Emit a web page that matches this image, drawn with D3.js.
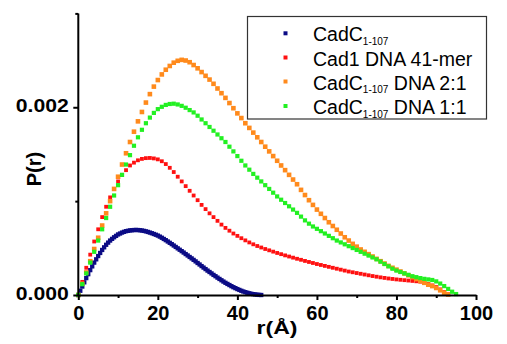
<!DOCTYPE html>
<html><head><meta charset="utf-8">
<script src="https://cdn.jsdelivr.net/npm/d3@7"></script>
<style>
html,body{margin:0;padding:0;background:#fff;}
svg{display:block;font-family:"Liberation Sans",Arial,sans-serif;}
</style></head>
<body>
<svg id="chart" width="507" height="344"></svg>
<script>
// P(r) values are given in units of 1e-4
const unit = 1e-4;

const rBlue = [0,0.5,1,1.5,2,2.5,3,3.5,4,4.5,5,5.5,6,6.5,7,7.5,8,8.5,9,9.5,10,10.5,11,11.5,12,12.5,13,13.5,14,14.5,15,15.5,16,16.5,17,17.5,18,18.5,19,19.5,20,20.5,21,21.5,22,22.5,23,23.5,24,24.5,25,25.5,26,26.5,27,27.5,28,28.5,29,29.5,30,30.5,31,31.5,32,32.5,33,33.5,34,34.5,35,35.5,36,36.5,37,37.5,38,38.5,39,39.5,40,40.5,41,41.5,42,42.5,43,43.5,44,44.5,45,45.5,46];
const pBlue = [0,0.45,0.9,1.35,1.8,2.22,2.65,3.05,3.45,3.8,4.15,4.48,4.8,5.08,5.35,5.58,5.8,5.98,6.15,6.3,6.45,6.55,6.65,6.73,6.8,6.84,6.88,6.9,6.92,6.93,6.92,6.9,6.87,6.83,6.78,6.72,6.65,6.58,6.5,6.42,6.33,6.22,6.1,5.97,5.84,5.7,5.56,5.42,5.27,5.12,4.97,4.82,4.67,4.52,4.36,4.21,4.05,3.9,3.74,3.58,3.41,3.25,3.08,2.92,2.76,2.6,2.45,2.3,2.14,2,1.85,1.71,1.57,1.43,1.3,1.18,1.06,0.94,0.83,0.73,0.63,0.54,0.45,0.37,0.3,0.24,0.18,0.13,0.09,0.06,0.03,0.01,0];

const rGrid = [0,1,2,3,4,5,6,7,8,9,10,11,12,13,14,15,16,17,18,19,20,21,22,23,24,25,26,27,28,29,30,31,32,33,34,35,36,37,38,39,40,41,42,43,44,45,46,47,48,49,50,51,52,53,54,55,56,57,58,59,60,61,62,63,64,65,66,67,68,69,70,71,72,73,74,75,76,77,78,79,80,81,82,83,84,85,86,87,88,89,90,91,92,93,94,95];

const pRed = [0,1.4,2.9,4.3,5.7,7.0,8.3,9.4,10.4,11.3,12.1,12.8,13.3,13.8,14.1,14.35,14.5,14.58,14.6,14.55,14.45,14.25,13.95,13.55,13.1,12.6,12.1,11.6,11.1,10.6,10.1,9.6,9.15,8.7,8.3,7.9,7.5,7.15,6.85,6.55,6.3,6.05,5.82,5.6,5.4,5.22,5.06,4.9,4.76,4.62,4.48,4.35,4.22,4.1,3.98,3.86,3.75,3.63,3.52,3.41,3.3,3.2,3.1,3.0,2.9,2.8,2.7,2.6,2.5,2.42,2.34,2.26,2.18,2.1,2.02,1.95,1.88,1.82,1.76,1.71,1.66,1.62,1.58,1.54,1.5,1.46,1.42,1.32,1.18,1.02,0.85,0.6,0.32,0.08];

const pOrange = [0,1.2,2.4,3.6,4.9,6.1,7.4,8.7,10.0,11.3,12.6,13.9,15.1,16.3,17.4,18.5,19.5,20.5,21.4,22.2,22.9,23.5,24.0,24.4,24.75,24.95,25.05,24.98,24.8,24.5,24.15,23.75,23.35,22.95,22.5,22.0,21.5,21.0,20.45,19.9,19.35,18.85,18.3,17.8,17.3,16.8,16.3,15.8,15.3,14.8,14.3,13.8,13.3,12.8,12.3,11.8,11.2,10.65,10.1,9.6,9.1,8.65,8.2,7.75,7.35,6.95,6.55,6.15,5.8,5.45,5.15,4.85,4.6,4.35,4.1,3.85,3.6,3.35,3.1,2.9,2.7,2.5,2.3,2.1,1.9,1.7,1.5,1.3,1.1,0.95,0.75,0.5,0.25,0.05];

const pGreen = [0,1.15,2.3,3.45,4.6,5.8,7.0,8.2,9.4,10.6,11.7,12.8,13.9,14.9,15.9,16.8,17.6,18.3,18.9,19.4,19.8,20.05,20.25,20.35,20.38,20.3,20.15,19.95,19.7,19.45,19.1,18.7,18.3,17.9,17.5,17.1,16.7,16.3,15.8,15.3,14.8,14.3,13.8,13.35,12.9,12.5,12.1,11.7,11.3,10.9,10.5,10.15,9.8,9.45,9.1,8.75,8.35,7.95,7.6,7.3,7.05,6.8,6.55,6.3,6.05,5.8,5.6,5.4,5.2,5.0,4.8,4.6,4.4,4.2,4.0,3.8,3.55,3.3,3.05,2.8,2.6,2.45,2.3,2.15,2.0,1.9,1.8,1.72,1.66,1.6,1.45,1.22,0.95,0.65,0.35,0.1];

const xMajor = [0,20,40,60,80,100];
const xMinor = [10,30,50,70,90];
const yMajor = [0,0.002];
const yMinor = [0.001,0.003];

const legendMain = ["CadC","Cad1 DNA 41-mer","CadC","CadC"];
const legendSub  = ["1-107","","1-107","1-107"];
const legendTail = [""," "," DNA 2:1"," DNA 1:1"];
const colors = ["#0b0b85","#ff1010","#ff8a1c","#22f022"];
const sizes = [4.3,3.8,4.6,4.2];

const svg = d3.select("#chart");
const x = d3.scaleLinear().domain([0,100]).range([78.3,476]);
const y = d3.scaleLinear().domain([0,0.003]).range([295,13.4]);

const series = [
  rBlue.map((r,i)=>({r:r,p:pBlue[i]*unit})),
  pRed.map((v,i)=>({r:rGrid[i],p:v*unit})),
  pOrange.map((v,i)=>({r:rGrid[i],p:v*unit})),
  pGreen.map((v,i)=>({r:rGrid[i],p:v*unit}))
];

// data markers
series.forEach((pts,k)=>{
  const s = sizes[k];
  svg.append("g").selectAll("rect").data(pts).join("rect")
    .attr("x",d=>x(d.r)-s/2).attr("y",d=>y(d.p)-s/2)
    .attr("width",s).attr("height",s)
    .attr("fill",colors[k]);
});

// axes
function styleAxis(g){
  g.selectAll("path.domain").attr("stroke","#000").attr("stroke-width",2);
  g.selectAll(".tick line").attr("stroke","#000").attr("stroke-width",2);
}
const gx = svg.append("g").attr("transform","translate(0,295)")
  .call(d3.axisBottom(x).tickValues(xMajor).tickSize(5).tickSizeOuter(0).tickFormat(d3.format("d")));
styleAxis(gx);
gx.selectAll(".tick text").attr("y",24.5).attr("dy",null)
  .attr("font-size",20).attr("font-weight","bold").attr("fill","#000")
  .attr("font-family","Liberation Sans, Arial, sans-serif");
const gxm = svg.append("g").attr("transform","translate(0,295)")
  .call(d3.axisBottom(x).tickValues(xMinor).tickSize(3).tickSizeOuter(0).tickFormat(""));
styleAxis(gxm); gxm.select("path.domain").remove();

const gy = svg.append("g").attr("transform","translate(78.3,0)")
  .call(d3.axisLeft(y).tickValues(yMajor).tickSize(5).tickSizeOuter(0).tickFormat(d3.format(".3f")));
styleAxis(gy);
gy.selectAll(".tick text").attr("x",-9.5).attr("dy",null).attr("y",4)
  .attr("font-size",18).attr("font-weight","bold").attr("fill","#000")
  .attr("textLength",53).attr("lengthAdjust","spacingAndGlyphs")
  .attr("font-family","Liberation Sans, Arial, sans-serif");
const gym = svg.append("g").attr("transform","translate(78.3,0)")
  .call(d3.axisLeft(y).tickValues(yMinor).tickSize(3).tickSizeOuter(0).tickFormat(""));
styleAxis(gym); gym.select("path.domain").remove();
// extend y axis line to top
gy.select("path.domain").attr("d","M0,"+y(0.003)+"V"+y(0));

// axis titles
svg.append("text").attr("x",277).attr("y",333.5).attr("text-anchor","middle")
  .attr("font-size",18).attr("font-weight","bold")
  .attr("textLength",41).attr("lengthAdjust","spacingAndGlyphs").text("r(Å)");
svg.append("text").attr("transform","translate(40.8,169) rotate(-90)")
  .attr("text-anchor","middle").attr("font-size",20).attr("font-weight","bold").text("P(r)");

// legend
const lg = svg.append("g");
lg.append("rect").attr("x",247.5).attr("y",16.5).attr("width",239).attr("height",102.5)
  .attr("fill","#fff").attr("stroke","#333").attr("stroke-width",1.2);
const rowY = [33.3,57.5,81.5,106];
rowY.forEach((yy,i)=>{
  lg.append("rect").attr("x",283.5).attr("y",yy-2).attr("width",4).attr("height",4).attr("fill",colors[i]);
  const t = lg.append("text").attr("x",313).attr("y",yy+8).attr("font-size",19.5)
    .style("white-space","pre").attr("fill","#000");
  t.append("tspan").text(legendMain[i]);
  if(legendSub[i]){
    t.append("tspan").attr("dy",3.5).attr("font-size",10).text(legendSub[i]);
    if(legendTail[i]) t.append("tspan").attr("dy",-3.5).text(legendTail[i]);
  }
});
</script>
</body></html>
